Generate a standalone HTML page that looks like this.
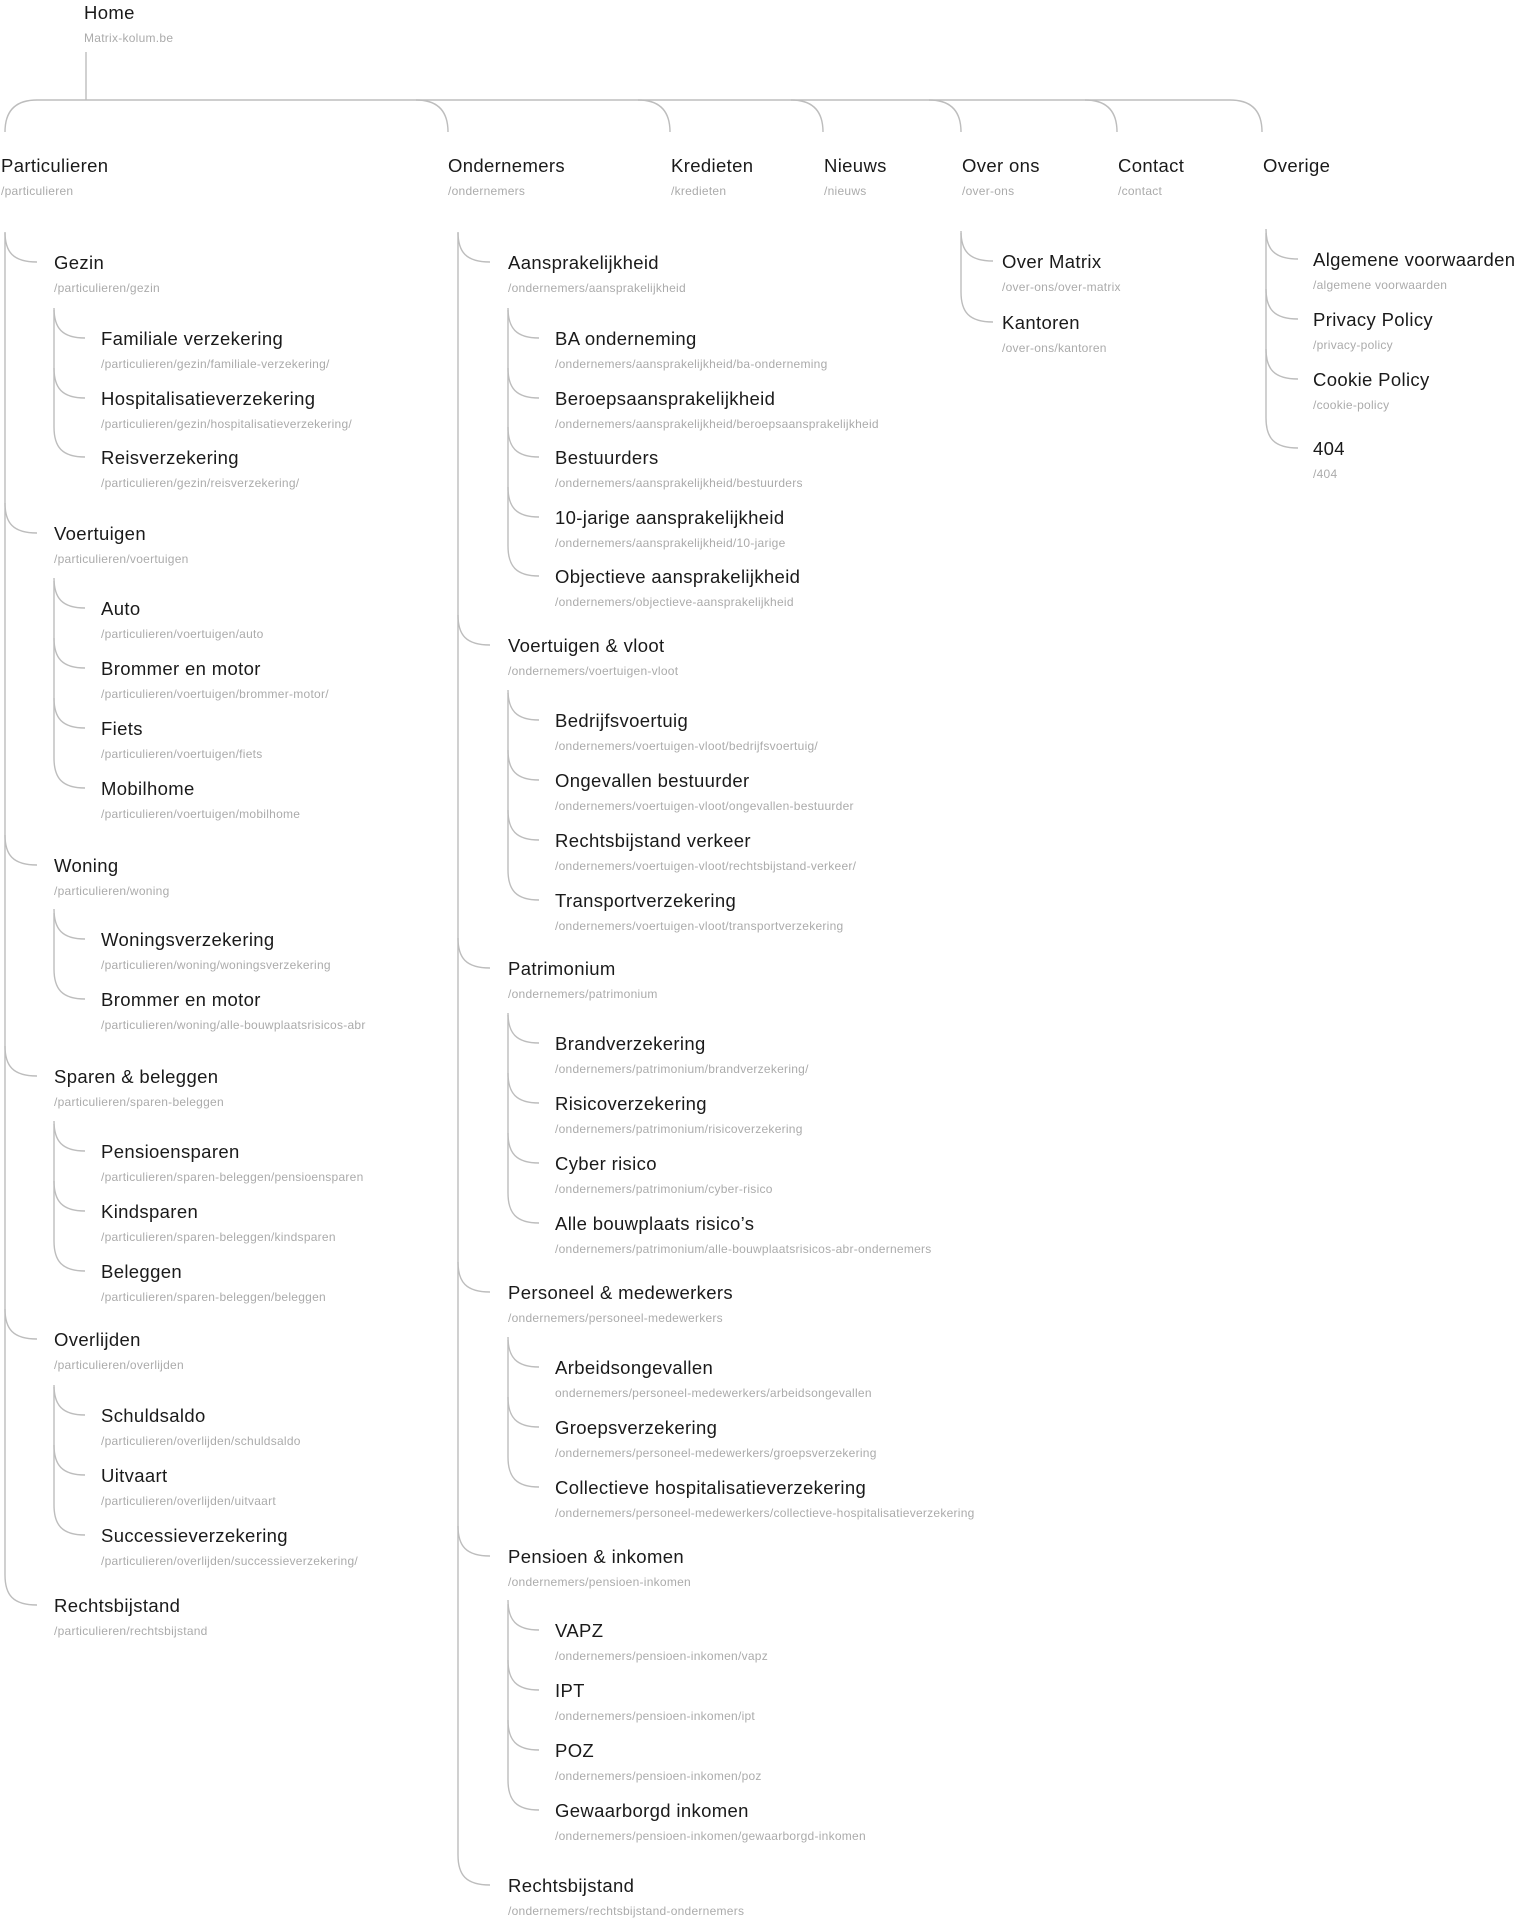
<!DOCTYPE html>
<html><head><meta charset="utf-8"><style>
html,body{margin:0;padding:0;background:#fff;width:1519px;height:1920px;overflow:hidden;position:relative;font-family:"Liberation Sans",Arial,sans-serif}
.n{position:absolute;white-space:nowrap;margin-top:1px}
.t{font-size:18.5px;line-height:24px;color:#1a1a1a;letter-spacing:0.35px}
.u{font-size:12px;line-height:14px;margin-top:6px;color:#ababab;letter-spacing:0.26px}
svg{position:absolute;left:0;top:0}
path{fill:none;stroke:#bdbdbd;stroke-width:1.4}
</style></head><body>
<svg width="1519" height="1920">
<path d="M86 52 V100"/>
<path d="M5 132 Q5 100 37 100 H1230 Q1262 100 1262 132"/>
<path d="M416 100 Q448 100 448 132"/><path d="M638 100 Q670 100 670 132"/><path d="M791 100 Q823 100 823 132"/><path d="M929 100 Q961 100 961 132"/><path d="M1085 100 Q1117 100 1117 132"/>
<path d="M5 233 V1575"/>
<path d="M5 232 C5 252 13 262 37 262"/><path d="M5 503 C5 523 13 533 37 533"/><path d="M5 835 C5 855 13 865 37 865"/><path d="M5 1046 C5 1066 13 1076 37 1076"/><path d="M5 1309 C5 1329 13 1339 37 1339"/><path d="M5 1575 C5 1595 13 1605 37 1605"/>
<path d="M54 310 V427"/><path d="M54 308 C54 328 62 338 85 338"/><path d="M54 368 C54 388 62 398 85 398"/><path d="M54 427 C54 447 62 457 85 457"/>
<path d="M54 581 V758"/><path d="M54 578 C54 598 62 608 85 608"/><path d="M54 638 C54 658 62 668 85 668"/><path d="M54 698 C54 718 62 728 85 728"/><path d="M54 758 C54 778 62 788 85 788"/>
<path d="M54 913 V969"/><path d="M54 909 C54 929 62 939 85 939"/><path d="M54 969 C54 989 62 999 85 999"/>
<path d="M54 1124 V1241"/><path d="M54 1121 C54 1141 62 1151 85 1151"/><path d="M54 1181 C54 1201 62 1211 85 1211"/><path d="M54 1241 C54 1261 62 1271 85 1271"/>
<path d="M54 1387 V1505"/><path d="M54 1385 C54 1405 62 1415 85 1415"/><path d="M54 1445 C54 1465 62 1475 85 1475"/><path d="M54 1505 C54 1525 62 1535 85 1535"/>
<path d="M458 233 V1855"/>
<path d="M458 232 C458 252 466 262 490 262"/><path d="M458 615 C458 635 466 645 490 645"/><path d="M458 938 C458 958 466 968 490 968"/><path d="M458 1262 C458 1282 466 1292 490 1292"/><path d="M458 1526 C458 1546 466 1556 490 1556"/><path d="M458 1855 C458 1875 466 1885 490 1885"/>
<path d="M508 310 V546"/><path d="M508 308 C508 328 516 338 539 338"/><path d="M508 368 C508 388 516 398 539 398"/><path d="M508 427 C508 447 516 457 539 457"/><path d="M508 487 C508 507 516 517 539 517"/><path d="M508 546 C508 566 516 576 539 576"/>
<path d="M508 693 V870"/><path d="M508 690 C508 710 516 720 539 720"/><path d="M508 750 C508 770 516 780 539 780"/><path d="M508 810 C508 830 516 840 539 840"/><path d="M508 870 C508 890 516 900 539 900"/>
<path d="M508 1015 V1193"/><path d="M508 1013 C508 1033 516 1043 539 1043"/><path d="M508 1073 C508 1093 516 1103 539 1103"/><path d="M508 1133 C508 1153 516 1163 539 1163"/><path d="M508 1193 C508 1213 516 1223 539 1223"/>
<path d="M508 1340 V1457"/><path d="M508 1337 C508 1357 516 1367 539 1367"/><path d="M508 1397 C508 1417 516 1427 539 1427"/><path d="M508 1457 C508 1477 516 1487 539 1487"/>
<path d="M508 1604 V1780"/><path d="M508 1600 C508 1620 516 1630 539 1630"/><path d="M508 1660 C508 1680 516 1690 539 1690"/><path d="M508 1720 C508 1740 516 1750 539 1750"/><path d="M508 1780 C508 1800 516 1810 539 1810"/>
<path d="M961 233 V292"/><path d="M961 231 C961 251 969 261 993 261"/><path d="M961 292 C961 312 969 322 993 322"/>
<path d="M1266 233 V418"/><path d="M1266 229 C1266 249 1274 259 1298 259"/><path d="M1266 289 C1266 309 1274 319 1298 319"/><path d="M1266 349 C1266 369 1274 379 1298 379"/><path d="M1266 418 C1266 438 1274 448 1298 448"/>
</svg>

<div class="n" style="left:84px;top:0px"><div class="t">Home</div><div class="u">Matrix-kolum.be</div></div>

<div class="n" style="left:1px;top:153px"><div class="t">Particulieren</div><div class="u">/particulieren</div></div>
<div class="n" style="left:448px;top:153px"><div class="t">Ondernemers</div><div class="u">/ondernemers</div></div>
<div class="n" style="left:671px;top:153px"><div class="t">Kredieten</div><div class="u">/kredieten</div></div>
<div class="n" style="left:824px;top:153px"><div class="t">Nieuws</div><div class="u">/nieuws</div></div>
<div class="n" style="left:962px;top:153px"><div class="t">Over ons</div><div class="u">/over-ons</div></div>
<div class="n" style="left:1118px;top:153px"><div class="t">Contact</div><div class="u">/contact</div></div>
<div class="n" style="left:1263px;top:153px"><div class="t">Overige</div></div>

<div class="n" style="left:54px;top:250px"><div class="t">Gezin</div><div class="u">/particulieren/gezin</div></div>
<div class="n" style="left:101px;top:326px"><div class="t">Familiale verzekering</div><div class="u">/particulieren/gezin/familiale-verzekering/</div></div>
<div class="n" style="left:101px;top:386px"><div class="t">Hospitalisatieverzekering</div><div class="u">/particulieren/gezin/hospitalisatieverzekering/</div></div>
<div class="n" style="left:101px;top:445px"><div class="t">Reisverzekering</div><div class="u">/particulieren/gezin/reisverzekering/</div></div>
<div class="n" style="left:54px;top:521px"><div class="t">Voertuigen</div><div class="u">/particulieren/voertuigen</div></div>
<div class="n" style="left:101px;top:596px"><div class="t">Auto</div><div class="u">/particulieren/voertuigen/auto</div></div>
<div class="n" style="left:101px;top:656px"><div class="t">Brommer en motor</div><div class="u">/particulieren/voertuigen/brommer-motor/</div></div>
<div class="n" style="left:101px;top:716px"><div class="t">Fiets</div><div class="u">/particulieren/voertuigen/fiets</div></div>
<div class="n" style="left:101px;top:776px"><div class="t">Mobilhome</div><div class="u">/particulieren/voertuigen/mobilhome</div></div>
<div class="n" style="left:54px;top:853px"><div class="t">Woning</div><div class="u">/particulieren/woning</div></div>
<div class="n" style="left:101px;top:927px"><div class="t">Woningsverzekering</div><div class="u">/particulieren/woning/woningsverzekering</div></div>
<div class="n" style="left:101px;top:987px"><div class="t">Brommer en motor</div><div class="u">/particulieren/woning/alle-bouwplaatsrisicos-abr</div></div>
<div class="n" style="left:54px;top:1064px"><div class="t">Sparen &amp; beleggen</div><div class="u">/particulieren/sparen-beleggen</div></div>
<div class="n" style="left:101px;top:1139px"><div class="t">Pensioensparen</div><div class="u">/particulieren/sparen-beleggen/pensioensparen</div></div>
<div class="n" style="left:101px;top:1199px"><div class="t">Kindsparen</div><div class="u">/particulieren/sparen-beleggen/kindsparen</div></div>
<div class="n" style="left:101px;top:1259px"><div class="t">Beleggen</div><div class="u">/particulieren/sparen-beleggen/beleggen</div></div>
<div class="n" style="left:54px;top:1327px"><div class="t">Overlijden</div><div class="u">/particulieren/overlijden</div></div>
<div class="n" style="left:101px;top:1403px"><div class="t">Schuldsaldo</div><div class="u">/particulieren/overlijden/schuldsaldo</div></div>
<div class="n" style="left:101px;top:1463px"><div class="t">Uitvaart</div><div class="u">/particulieren/overlijden/uitvaart</div></div>
<div class="n" style="left:101px;top:1523px"><div class="t">Successieverzekering</div><div class="u">/particulieren/overlijden/successieverzekering/</div></div>
<div class="n" style="left:54px;top:1593px"><div class="t">Rechtsbijstand</div><div class="u">/particulieren/rechtsbijstand</div></div>

<div class="n" style="left:508px;top:250px"><div class="t">Aansprakelijkheid</div><div class="u">/ondernemers/aansprakelijkheid</div></div>
<div class="n" style="left:555px;top:326px"><div class="t">BA onderneming</div><div class="u">/ondernemers/aansprakelijkheid/ba-onderneming</div></div>
<div class="n" style="left:555px;top:386px"><div class="t">Beroepsaansprakelijkheid</div><div class="u">/ondernemers/aansprakelijkheid/beroepsaansprakelijkheid</div></div>
<div class="n" style="left:555px;top:445px"><div class="t">Bestuurders</div><div class="u">/ondernemers/aansprakelijkheid/bestuurders</div></div>
<div class="n" style="left:555px;top:505px"><div class="t">10-jarige aansprakelijkheid</div><div class="u">/ondernemers/aansprakelijkheid/10-jarige</div></div>
<div class="n" style="left:555px;top:564px"><div class="t">Objectieve aansprakelijkheid</div><div class="u">/ondernemers/objectieve-aansprakelijkheid</div></div>
<div class="n" style="left:508px;top:633px"><div class="t">Voertuigen &amp; vloot</div><div class="u">/ondernemers/voertuigen-vloot</div></div>
<div class="n" style="left:555px;top:708px"><div class="t">Bedrijfsvoertuig</div><div class="u">/ondernemers/voertuigen-vloot/bedrijfsvoertuig/</div></div>
<div class="n" style="left:555px;top:768px"><div class="t">Ongevallen bestuurder</div><div class="u">/ondernemers/voertuigen-vloot/ongevallen-bestuurder</div></div>
<div class="n" style="left:555px;top:828px"><div class="t">Rechtsbijstand verkeer</div><div class="u">/ondernemers/voertuigen-vloot/rechtsbijstand-verkeer/</div></div>
<div class="n" style="left:555px;top:888px"><div class="t">Transportverzekering</div><div class="u">/ondernemers/voertuigen-vloot/transportverzekering</div></div>
<div class="n" style="left:508px;top:956px"><div class="t">Patrimonium</div><div class="u">/ondernemers/patrimonium</div></div>
<div class="n" style="left:555px;top:1031px"><div class="t">Brandverzekering</div><div class="u">/ondernemers/patrimonium/brandverzekering/</div></div>
<div class="n" style="left:555px;top:1091px"><div class="t">Risicoverzekering</div><div class="u">/ondernemers/patrimonium/risicoverzekering</div></div>
<div class="n" style="left:555px;top:1151px"><div class="t">Cyber risico</div><div class="u">/ondernemers/patrimonium/cyber-risico</div></div>
<div class="n" style="left:555px;top:1211px"><div class="t">Alle bouwplaats risico’s</div><div class="u">/ondernemers/patrimonium/alle-bouwplaatsrisicos-abr-ondernemers</div></div>
<div class="n" style="left:508px;top:1280px"><div class="t">Personeel &amp; medewerkers</div><div class="u">/ondernemers/personeel-medewerkers</div></div>
<div class="n" style="left:555px;top:1355px"><div class="t">Arbeidsongevallen</div><div class="u">ondernemers/personeel-medewerkers/arbeidsongevallen</div></div>
<div class="n" style="left:555px;top:1415px"><div class="t">Groepsverzekering</div><div class="u">/ondernemers/personeel-medewerkers/groepsverzekering</div></div>
<div class="n" style="left:555px;top:1475px"><div class="t">Collectieve hospitalisatieverzekering</div><div class="u">/ondernemers/personeel-medewerkers/collectieve-hospitalisatieverzekering</div></div>
<div class="n" style="left:508px;top:1544px"><div class="t">Pensioen &amp; inkomen</div><div class="u">/ondernemers/pensioen-inkomen</div></div>
<div class="n" style="left:555px;top:1618px"><div class="t">VAPZ</div><div class="u">/ondernemers/pensioen-inkomen/vapz</div></div>
<div class="n" style="left:555px;top:1678px"><div class="t">IPT</div><div class="u">/ondernemers/pensioen-inkomen/ipt</div></div>
<div class="n" style="left:555px;top:1738px"><div class="t">POZ</div><div class="u">/ondernemers/pensioen-inkomen/poz</div></div>
<div class="n" style="left:555px;top:1798px"><div class="t">Gewaarborgd inkomen</div><div class="u">/ondernemers/pensioen-inkomen/gewaarborgd-inkomen</div></div>
<div class="n" style="left:508px;top:1873px"><div class="t">Rechtsbijstand</div><div class="u">/ondernemers/rechtsbijstand-ondernemers</div></div>

<div class="n" style="left:1002px;top:249px"><div class="t">Over Matrix</div><div class="u">/over-ons/over-matrix</div></div>
<div class="n" style="left:1002px;top:310px"><div class="t">Kantoren</div><div class="u">/over-ons/kantoren</div></div>

<div class="n" style="left:1313px;top:247px"><div class="t">Algemene voorwaarden</div><div class="u">/algemene voorwaarden</div></div>
<div class="n" style="left:1313px;top:307px"><div class="t">Privacy Policy</div><div class="u">/privacy-policy</div></div>
<div class="n" style="left:1313px;top:367px"><div class="t">Cookie Policy</div><div class="u">/cookie-policy</div></div>
<div class="n" style="left:1313px;top:436px"><div class="t">404</div><div class="u">/404</div></div>
</body></html>
